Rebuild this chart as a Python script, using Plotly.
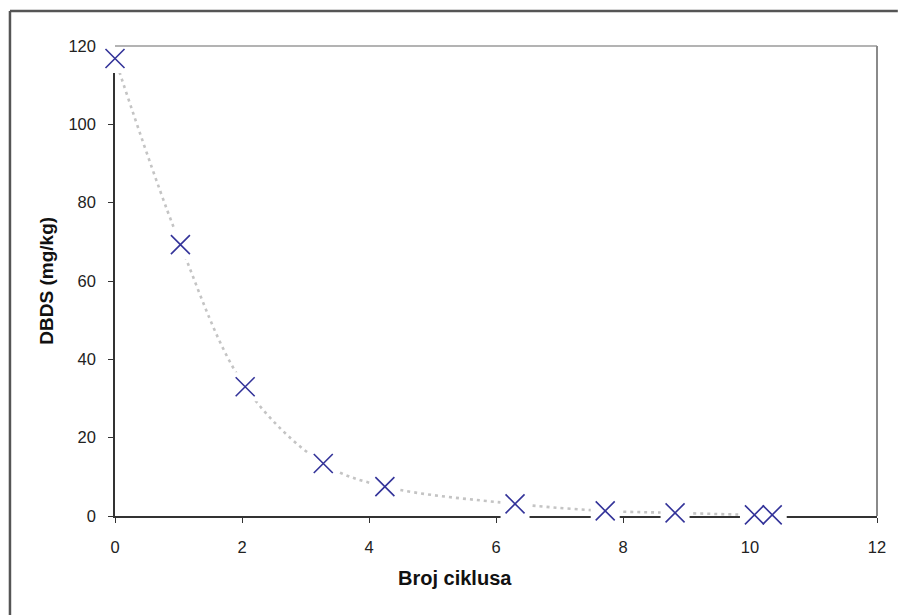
import plotly.graph_objects as go

# DBDS concentration measured after each treatment cycle
ciklusi = [0.0, 1.03, 2.05, 3.28, 4.25, 6.3, 7.72, 8.82, 10.07, 10.35]
dbds = [116.8, 69.3, 33.0, 13.4, 7.5, 3.1, 1.3, 0.8, 0.3, 0.3]

x_ticks = [0, 2, 4, 6, 8, 10, 12]
y_ticks = [0, 20, 40, 60, 80, 100, 120]

W, H = 898, 615
L, R, T, B = 115, 14, 46, 99
pw, ph = W - L - R, H - T - B

FONT = "Liberation Sans, Arial, sans-serif"

fig = go.Figure()

# smoothed dotted trend line
fig.add_trace(go.Scatter(
    x=ciklusi, y=dbds, mode="lines",
    line=dict(color="#c4c4c4", width=2.6, dash="3px,4px", shape="spline", smoothing=1.0),
    hoverinfo="skip", showlegend=False, cliponaxis=False,
))
# white backing box behind each marker
fig.add_trace(go.Scatter(
    x=ciklusi, y=dbds, mode="markers",
    marker=dict(symbol="square", size=29, color="white", line=dict(width=0)),
    hoverinfo="skip", showlegend=False, cliponaxis=False,
))
# data markers
fig.add_trace(go.Scatter(
    x=ciklusi, y=dbds, mode="markers",
    marker=dict(symbol="x-thin", size=19, color="#333399",
                line=dict(color="#333399", width=1.6)),
    showlegend=False, cliponaxis=False,
))

axis_common = dict(
    showgrid=False, zeroline=False, showline=True, linecolor="#333333", linewidth=1.5,
    ticks="outside", ticklen=5, tickwidth=1.2, tickcolor="#333333",
    tickfont=dict(family=FONT, size=16.5, color="#222222"),
    layer="below traces", mirror=False,
)

fig.update_xaxes(range=[0, 12], tickvals=x_ticks, ticklabelstandoff=10, **axis_common)
fig.update_yaxes(range=[0, 120], tickvals=y_ticks, ticklabelstandoff=9, **axis_common)

def px_x(p):
    return (p - L) / pw

def px_y(p):
    return 1 - (p - T) / ph

shapes = [
    # outer chart frame
    dict(type="line", xref="paper", yref="paper", x0=px_x(9), x1=px_x(905),
         y0=px_y(11), y1=px_y(11), line=dict(color="#555555", width=2.5), layer="above"),
    dict(type="line", xref="paper", yref="paper", x0=px_x(9), x1=px_x(9),
         y0=px_y(11), y1=px_y(620), line=dict(color="#555555", width=2.5), layer="above"),
    # plot area top and right borders
    dict(type="line", xref="paper", yref="paper", x0=0, x1=1, y0=1, y1=1,
         line=dict(color="#9a9a9a", width=1.6), layer="above"),
    dict(type="line", xref="paper", yref="paper", x0=1, x1=1, y0=0, y1=1,
         line=dict(color="#8a8a8a", width=2), layer="above"),
]

annotations = [
    dict(text="<b>Broj ciklusa</b>", xref="paper", yref="paper", x=px_x(458), y=px_y(578),
         showarrow=False, xanchor="center", yanchor="middle",
         font=dict(family=FONT, size=20, color="#111111")),
    dict(text="<b>DBDS (mg/kg)</b>", xref="paper", yref="paper", x=px_x(45), y=px_y(281),
         showarrow=False, xanchor="center", yanchor="middle", textangle=-90,
         font=dict(family=FONT, size=19, color="#111111")),
]

fig.update_layout(
    width=W, height=H,
    margin=dict(l=L, r=R, t=T, b=B),
    paper_bgcolor="white", plot_bgcolor="white",
    shapes=shapes, annotations=annotations,
    showlegend=False,
)

fig.write_html("out.html")
